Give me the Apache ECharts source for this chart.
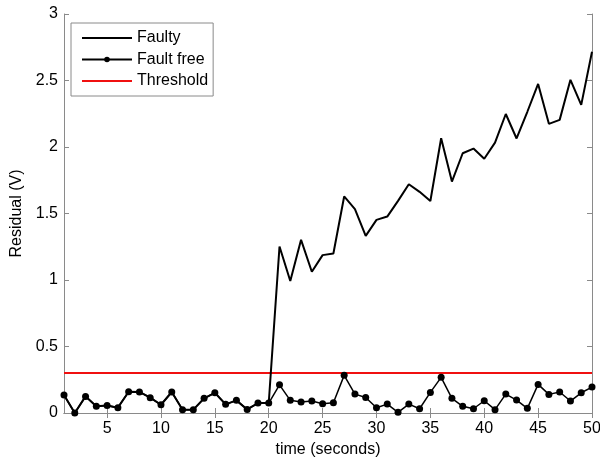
<!DOCTYPE html>
<html>
<head>
<meta charset="utf-8">
<script src="https://cdn.jsdelivr.net/npm/echarts@6/dist/echarts.min.js"></script>
<style>
  html, body { margin: 0; padding: 0; background: #fff; }
  #main { width: 600px; height: 457px; }
</style>
</head>
<body>
<div id="main"></div>
<script>
const time = [1,2,3,4,5,6,7,8,9,10,11,12,13,14,15,16,17,18,19,20,21,22,23,24,25,26,27,28,29,30,31,32,33,34,35,36,37,38,39,40,41,42,43,44,45,46,47,48,49,50]
const faultFree = [0.135,0.0,0.125,0.05,0.057,0.04,0.16,0.158,0.115,0.062,0.158,0.025,0.025,0.11,0.152,0.065,0.095,0.027,0.075,0.075,
  0.212,0.095,0.083,0.09,0.07,0.077,0.283,0.142,0.117,0.04,0.067,0.005,0.067,0.032,0.155,0.268,0.11,0.05,0.032,0.092,
  0.025,0.142,0.097,0.035,0.215,0.14,0.158,0.09,0.152,0.195]
const faulty = [0.135,0.0,0.125,0.05,0.057,0.04,0.16,0.158,0.115,0.062,0.158,0.025,0.025,0.11,0.152,0.065,0.095,0.027,0.075,0.075,
  1.252,0.992,1.302,1.062,1.187,1.199,1.628,1.533,1.332,1.452,1.477,1.595,1.72,1.663,1.594,2.066,1.74,1.953,1.988,1.912,
  2.033,2.248,2.064,2.265,2.474,2.174,2.204,2.505,2.317,2.716]
const threshold = 0.3
const xTicks = [5,10,15,20,25,30,35,40,45,50]

const font = "'Liberation Sans', Arial, sans-serif"
const axisGray = '#8a8a8a'

const pairs = (vals) => time.map((t, i) => [t, vals[i]])

let myChart = echarts.init(document.getElementById('main'))
let option = {
  backgroundColor: '#fff',
  animation: false,
  textStyle: { fontFamily: font },
  grid: { left: 64, right: 8, top: 14, bottom: 44, outerBoundsMode: 'none', containLabel: false },
  legend: {
    left: 71,
    top: 23,
    orient: 'vertical',
    backgroundColor: '#fff',
    borderColor: axisGray,
    borderWidth: 1,
    borderRadius: 0,
    padding: [7, 5, 7, 10],
    itemGap: 5.5,
    itemWidth: 50,
    itemHeight: 7,
    textStyle: { fontSize: 16, color: '#000', fontFamily: font, lineHeight: 16 },
    data: [
      { name: 'Faulty', itemStyle: { opacity: 0 } },
      { name: 'Fault free' },
      { name: 'Threshold', itemStyle: { opacity: 0 } }
    ]
  },
  xAxis: [
    {
      type: 'value',
      min: 1,
      max: 50,
      name: 'time (seconds)',
      nameLocation: 'middle',
      nameGap: 25,
      nameTextStyle: { fontSize: 16, color: '#000', fontFamily: font },
      axisLine: { show: true, lineStyle: { color: axisGray, width: 1 } },
      axisTick: { show: true, inside: true, length: 5, customValues: xTicks, lineStyle: { color: axisGray } },
      axisLabel: { customValues: xTicks, fontSize: 16, color: '#000', margin: 8, fontFamily: font },
      splitLine: { show: false }
    },
    {
      type: 'value',
      position: 'top',
      min: 1,
      max: 50,
      axisLine: { show: true, lineStyle: { color: axisGray, width: 1 } },
      axisTick: { show: true, inside: true, length: 5, customValues: xTicks, lineStyle: { color: axisGray } },
      axisLabel: { show: false },
      splitLine: { show: false }
    }
  ],
  yAxis: [
    {
      type: 'value',
      min: 0,
      max: 3,
      interval: 0.5,
      name: 'Residual (V)',
      nameLocation: 'middle',
      nameGap: 32,
      nameTextStyle: { fontSize: 16, color: '#000', fontFamily: font },
      axisLine: { show: true, lineStyle: { color: axisGray, width: 1 } },
      axisTick: { show: true, inside: true, length: 5, lineStyle: { color: axisGray } },
      axisLabel: { fontSize: 16, color: '#000', margin: 6, fontFamily: font },
      splitLine: { show: false }
    },
    {
      type: 'value',
      position: 'right',
      min: 0,
      max: 3,
      interval: 0.5,
      axisLine: { show: true, lineStyle: { color: axisGray, width: 1 } },
      axisTick: { show: true, inside: true, length: 5, lineStyle: { color: axisGray } },
      axisLabel: { show: false },
      splitLine: { show: false }
    }
  ],
  series: [
    {
      name: 'Faulty',
      type: 'line',
      data: pairs(faulty),
      symbol: 'none',
      color: '#000',
      lineStyle: { color: '#000', width: 2 },
      z: 3
    },
    {
      name: 'Threshold',
      type: 'line',
      data: time.map(t => [t, threshold]),
      symbol: 'none',
      color: '#ff0000',
      lineStyle: { color: '#f01010', width: 2 },
      z: 2
    },
    {
      name: 'Fault free',
      type: 'line',
      data: pairs(faultFree),
      symbol: 'circle',
      symbolSize: 7,
      color: '#000',
      itemStyle: { color: '#000' },
      lineStyle: { color: '#000', width: 1.5 },
      z: 4
    }
  ]
}
myChart.setOption(option)
</script>
</body>
</html>
